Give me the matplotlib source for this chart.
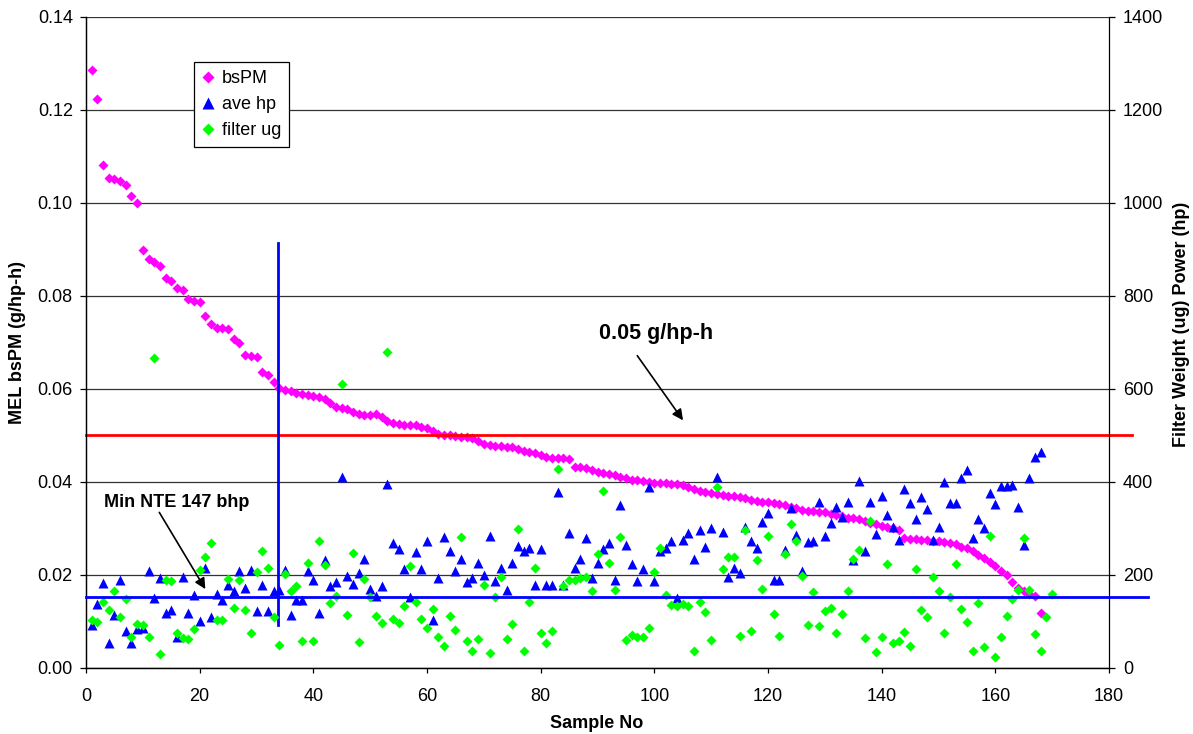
import numpy as np
import matplotlib.pyplot as plt

plt.rcParams['font.family'] = ['Liberation Sans', 'DejaVu Sans']

# MEL bsPM (g/hp-h), samples sorted high to low
bspm = [0.1286, 0.1223, 0.1080, 0.1054, 0.1052, 0.1047, 0.1038, 0.1015, 0.1000, 0.0899,
        0.0880, 0.0872, 0.0863, 0.0838, 0.0832, 0.0817, 0.0812, 0.0792, 0.0788, 0.0787,
        0.0756, 0.0740, 0.0730, 0.0731, 0.0729, 0.0706, 0.0698, 0.0672, 0.0671, 0.0669,
        0.0636, 0.0629, 0.0615, 0.0601, 0.0597, 0.0594, 0.0591, 0.0589, 0.0587, 0.0585,
        0.0583, 0.0577, 0.0569, 0.0561, 0.0559, 0.0557, 0.0550, 0.0545, 0.0544, 0.0544,
        0.0545, 0.0539, 0.0530, 0.0526, 0.0524, 0.0523, 0.0522, 0.0521, 0.0518, 0.0515,
        0.0509, 0.0503, 0.0500, 0.0500, 0.0499, 0.0497, 0.0496, 0.0493, 0.0487, 0.0482,
        0.0479, 0.0477, 0.0477, 0.0475, 0.0474, 0.0470, 0.0466, 0.0463, 0.0461, 0.0457,
        0.0454, 0.0452, 0.0450, 0.0450, 0.0449, 0.0432, 0.0431, 0.0429, 0.0425, 0.0420,
        0.0418, 0.0417, 0.0414, 0.0411, 0.0407, 0.0404, 0.0403, 0.0402, 0.0400, 0.0398,
        0.0397, 0.0397, 0.0396, 0.0394, 0.0392, 0.0389, 0.0384, 0.0380, 0.0377, 0.0375,
        0.0373, 0.0371, 0.0370, 0.0369, 0.0367, 0.0365, 0.0361, 0.0359, 0.0357, 0.0356,
        0.0355, 0.0353, 0.0350, 0.0346, 0.0343, 0.0339, 0.0337, 0.0336, 0.0335, 0.0334,
        0.0331, 0.0328, 0.0326, 0.0323, 0.0321, 0.0320, 0.0316, 0.0312, 0.0308, 0.0305,
        0.0303, 0.0300, 0.0296, 0.0280, 0.0277, 0.0276, 0.0275, 0.0275, 0.0273, 0.0273,
        0.0271, 0.0268, 0.0265, 0.0260, 0.0257, 0.0252, 0.0243, 0.0235, 0.0228, 0.0218,
        0.0207, 0.0200, 0.0185, 0.0171, 0.0164, 0.0158, 0.0155, 0.0117]

# average power (hp), right axis
ave_hp = [92, 137, 182, 54, 114, 189, 79, 54, 83, 85,
          207, 150, 193, 117, 125, 66, 194, 117, 157, 101,
          214, 110, 158, 146, 178, 166, 207, 172, 210, 122,
          178, 122, 165, 167, 210, 114, 146, 146, 207, 189,
          117, 232, 176, 185, 411, 198, 180, 203, 233, 169,
          155, 175, 395, 268, 255, 212, 153, 248, 212, 273,
          102, 193, 281, 250, 207, 233, 185, 193, 225, 200,
          284, 187, 214, 167, 225, 262, 250, 258, 178, 255,
          178, 178, 377, 178, 289, 215, 233, 280, 193, 226,
          255, 269, 189, 350, 264, 223, 187, 213, 389, 187,
          250, 257, 273, 150, 275, 289, 234, 296, 260, 301,
          411, 291, 196, 214, 203, 303, 273, 257, 313, 333,
          189, 189, 253, 343, 286, 209, 271, 273, 357, 283,
          311, 345, 324, 357, 232, 402, 250, 357, 288, 370,
          329, 302, 275, 384, 355, 320, 368, 341, 275, 302,
          400, 355, 354, 407, 425, 280, 320, 301, 375, 352,
          391, 391, 393, 346, 264, 409, 454, 464]

# filter weight (ug), right axis
filter_ug = [103, 99, 142, 125, 166, 110, 147, 67, 94, 92,
             67, 665, 30, 189, 187, 74, 64, 62, 83, 210,
             239, 269, 102, 103, 190, 129, 189, 125, 74, 205,
             252, 214, 110, 49, 202, 164, 176, 58, 226, 58,
             273, 221, 139, 155, 611, 114, 246, 56, 190, 151,
             112, 96, 679, 105, 96, 133, 218, 142, 105, 85,
             126, 67, 47, 112, 82, 281, 58, 35, 62, 178,
             32, 151, 196, 62, 94, 298, 35, 142, 214, 74,
             54, 80, 427, 176, 189, 189, 193, 196, 164, 245,
             380, 225, 167, 281, 60, 71, 67, 67, 85, 205,
             257, 157, 135, 132, 137, 132, 35, 142, 119, 60,
             388, 212, 238, 237, 69, 296, 78, 232, 170, 284,
             116, 69, 245, 309, 273, 198, 91, 163, 90, 121,
             128, 74, 116, 164, 233, 253, 64, 316, 33, 66,
             223, 53, 58, 77, 47, 212, 125, 109, 194, 164,
             74, 153, 223, 126, 98, 35, 140, 44, 284, 24,
             67, 112, 148, 167, 278, 167, 73, 35, 109, 158]

sample_pm = np.arange(1, len(bspm) + 1)
sample_hp = np.arange(1, len(ave_hp) + 1)
sample_ug = np.arange(1, len(filter_ug) + 1)

limit_bspm = 0.05      # g/hp-h
min_nte_hp = 153       # drawn level of the Min NTE line (right axis)
cut_sample = 33.8
cut_top = 0.0913
cut_bottom = 0.0092

W, H = 1193, 734
fig = plt.figure(figsize=(W / 100, H / 100), dpi=100)
ax = fig.add_axes([86 / W, 1 - 667.7 / H, (1109 - 86) / W, (667.7 - 16.7) / H])
ax2 = ax.twinx()

ax.set_xlim(0, 180)
ax.set_ylim(0, 0.14)
ax2.set_ylim(0, 1400)
ax.set_xticks(np.arange(0, 181, 20))
ax.set_yticks(np.arange(0, 0.141, 0.02))
ax2.set_yticks(np.arange(0, 1401, 200))
ax.yaxis.set_major_formatter(plt.FormatStrFormatter('%.2f'))

for a in (ax, ax2):
    for s in a.spines.values():
        s.set_color('black')
        s.set_linewidth(0.9)
    a.spines['top'].set_visible(False)
ax.spines['right'].set_visible(False)

ax.grid(axis='y', color='#333333', linewidth=0.9)
ax.set_axisbelow(True)
ax.tick_params(axis='y', direction='out', length=4.5, width=0.9, pad=5, labelsize=13)
ax.tick_params(axis='x', direction='out', length=3.5, width=0.9, pad=11, labelsize=13)
ax2.tick_params(axis='y', direction='out', length=4.5, width=0.9, pad=5.5, labelsize=13)

ax.plot(sample_pm, bspm, 'D', color='#FF00FF', ms=4.6, mec='none', label='bsPM', zorder=3)
ax2.plot(sample_hp, ave_hp, '^', color='#0000FF', ms=6.6, mec='none', label='ave hp', zorder=3)
ax2.plot(sample_ug, filter_ug, 'D', color='#00FF00', ms=4.6, mec='none', label='filter ug', zorder=4)

# limit lines drawn as shapes over the chart
ax.plot([0, 184], [limit_bspm, limit_bspm], color='#FF0000', lw=2, clip_on=False, zorder=5)
ax2.plot([0, 186.9], [min_nte_hp, min_nte_hp], color='#0000FF', lw=2, clip_on=False, zorder=5)
ax.plot([cut_sample, cut_sample], [cut_bottom, cut_top], color='#0000FF', lw=2, zorder=5)

arrow = dict(arrowstyle='-|>', color='black', lw=1.2, mutation_scale=16,
             shrinkA=0, shrinkB=0)
ax2.annotate('', xy=(105.05, 532), xytext=(97.0, 671), arrowprops=arrow, zorder=6)
ax2.text(100.3, 719, '0.05 g/hp-h', ha='center', va='center', fontsize=15.5,
         fontweight='bold', zorder=6)
ax2.annotate('', xy=(21.0, 169), xytext=(12.9, 334), arrowprops=arrow, zorder=6)
ax2.text(15.9, 356, 'Min NTE 147 bhp', ha='center', va='center', fontsize=13,
         fontweight='bold', zorder=6)

h1, l1 = ax.get_legend_handles_labels()
h2, l2 = ax2.get_legend_handles_labels()
leg = ax2.legend(h1 + h2, l1 + l2, loc='upper left',
                 bbox_to_anchor=(194 / W, 1 - 62 / H), bbox_transform=fig.transFigure,
                 fontsize=13, frameon=True, fancybox=False, framealpha=1,
                 edgecolor='black', borderaxespad=0, handlelength=0.7,
                 handletextpad=0.4, labelspacing=0.5, borderpad=0.45,
                 markerscale=1.25)
leg.get_frame().set_linewidth(0.9)
leg.set_zorder(10)

fig.text(597 / W, 1 - 724 / H, 'Sample No', ha='center', va='center',
         fontsize=13, fontweight='bold')
fig.text(18 / W, 1 - 342 / H, 'MEL bsPM (g/hp-h)', ha='center', va='center',
         rotation=90, fontsize=13, fontweight='bold')
fig.text(1181 / W, 1 - 324 / H, 'Filter Weight (ug) Power (hp)', ha='center',
         va='center', rotation=90, fontsize=13, fontweight='bold')

fig.savefig('out.png', dpi=100)
